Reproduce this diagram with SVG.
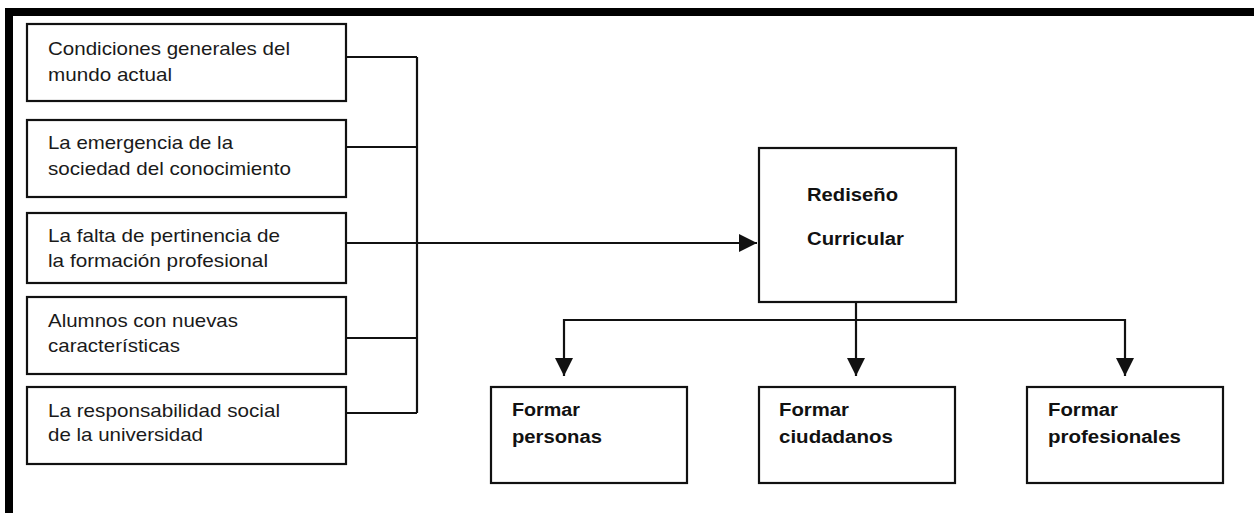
<svg xmlns="http://www.w3.org/2000/svg" width="1254" height="513" viewBox="0 0 1254 513">
<style>
.box{fill:#fff;stroke:#111;stroke-width:2.2}
.t{font-family:"Liberation Sans",Arial,sans-serif;font-size:19px;fill:#1a1a1a}
.b{font-family:"Liberation Sans",Arial,sans-serif;font-size:18px;font-weight:bold;fill:#111}
.c{fill:none;stroke:#111;stroke-width:2.2}
</style>
<defs>
<marker id="ah" viewBox="0 0 18 18" refX="18" refY="9" markerWidth="18" markerHeight="18" markerUnits="userSpaceOnUse" orient="auto">
<path d="M0,0 L18,9 L0,18 z" fill="#111"/>
</marker>
</defs>
<rect width="1254" height="513" fill="#fff"/>
<g id="frame">
<rect x="5" y="8" width="1249" height="8" fill="#000"/>
<rect x="5" y="8" width="8" height="505" fill="#000"/>
</g>
<g id="connectors">
<path class="c" d="M346,57 H417 M346,147 H417 M346,338 H417 M346,413 H417 M417,57 V413"/>
<path class="c" d="M346,243 H757" marker-end="url(#ah)"/>
<path class="c" d="M564,320 H1125"/>
<path class="c" d="M856,302 V376" marker-end="url(#ah)"/>
<path class="c" d="M564,319 V376" marker-end="url(#ah)"/>
<path class="c" d="M1125,319 V376" marker-end="url(#ah)"/>
</g>
<g id="n1">
<rect class="box" x="27" y="24" width="319" height="77"/>
<text class="t" x="48" y="55" textLength="242" lengthAdjust="spacingAndGlyphs">Condiciones generales del</text>
<text class="t" x="48" y="81" textLength="124" lengthAdjust="spacingAndGlyphs">mundo actual</text>
</g>
<g id="n2">
<rect class="box" x="27" y="120" width="319" height="77"/>
<text class="t" x="48" y="149" textLength="185" lengthAdjust="spacingAndGlyphs">La emergencia de la</text>
<text class="t" x="48" y="175" textLength="243" lengthAdjust="spacingAndGlyphs">sociedad del conocimiento</text>
</g>
<g id="n3">
<rect class="box" x="27" y="213" width="319" height="70"/>
<text class="t" x="48" y="242" textLength="232" lengthAdjust="spacingAndGlyphs">La falta de pertinencia de</text>
<text class="t" x="48" y="267" textLength="220" lengthAdjust="spacingAndGlyphs">la formación profesional</text>
</g>
<g id="n4">
<rect class="box" x="27" y="297" width="319" height="77"/>
<text class="t" x="48" y="327" textLength="190" lengthAdjust="spacingAndGlyphs">Alumnos con nuevas</text>
<text class="t" x="48" y="352" textLength="132" lengthAdjust="spacingAndGlyphs">características</text>
</g>
<g id="n5">
<rect class="box" x="27" y="387" width="319" height="77"/>
<text class="t" x="48" y="417" textLength="232" lengthAdjust="spacingAndGlyphs">La responsabilidad social</text>
<text class="t" x="48" y="441" textLength="155" lengthAdjust="spacingAndGlyphs">de la universidad</text>
</g>
<g id="redisenio">
<rect class="box" x="759" y="148" width="197" height="154"/>
<text class="b" x="807" y="201" textLength="91" lengthAdjust="spacingAndGlyphs">Rediseño</text>
<text class="b" x="807" y="245" textLength="97" lengthAdjust="spacingAndGlyphs">Curricular</text>
</g>
<g id="personas">
<rect class="box" x="491" y="387" width="196" height="96"/>
<text class="b" x="512" y="416" textLength="68" lengthAdjust="spacingAndGlyphs">Formar</text>
<text class="b" x="512" y="443" textLength="90" lengthAdjust="spacingAndGlyphs">personas</text>
</g>
<g id="ciudadanos">
<rect class="box" x="759" y="387" width="196" height="96"/>
<text class="b" x="779" y="416" textLength="70" lengthAdjust="spacingAndGlyphs">Formar</text>
<text class="b" x="779" y="443" textLength="114" lengthAdjust="spacingAndGlyphs">ciudadanos</text>
</g>
<g id="profesionales">
<rect class="box" x="1027" y="387" width="196" height="96"/>
<text class="b" x="1048" y="416" textLength="70" lengthAdjust="spacingAndGlyphs">Formar</text>
<text class="b" x="1048" y="443" textLength="133" lengthAdjust="spacingAndGlyphs">profesionales</text>
</g>
</svg>
